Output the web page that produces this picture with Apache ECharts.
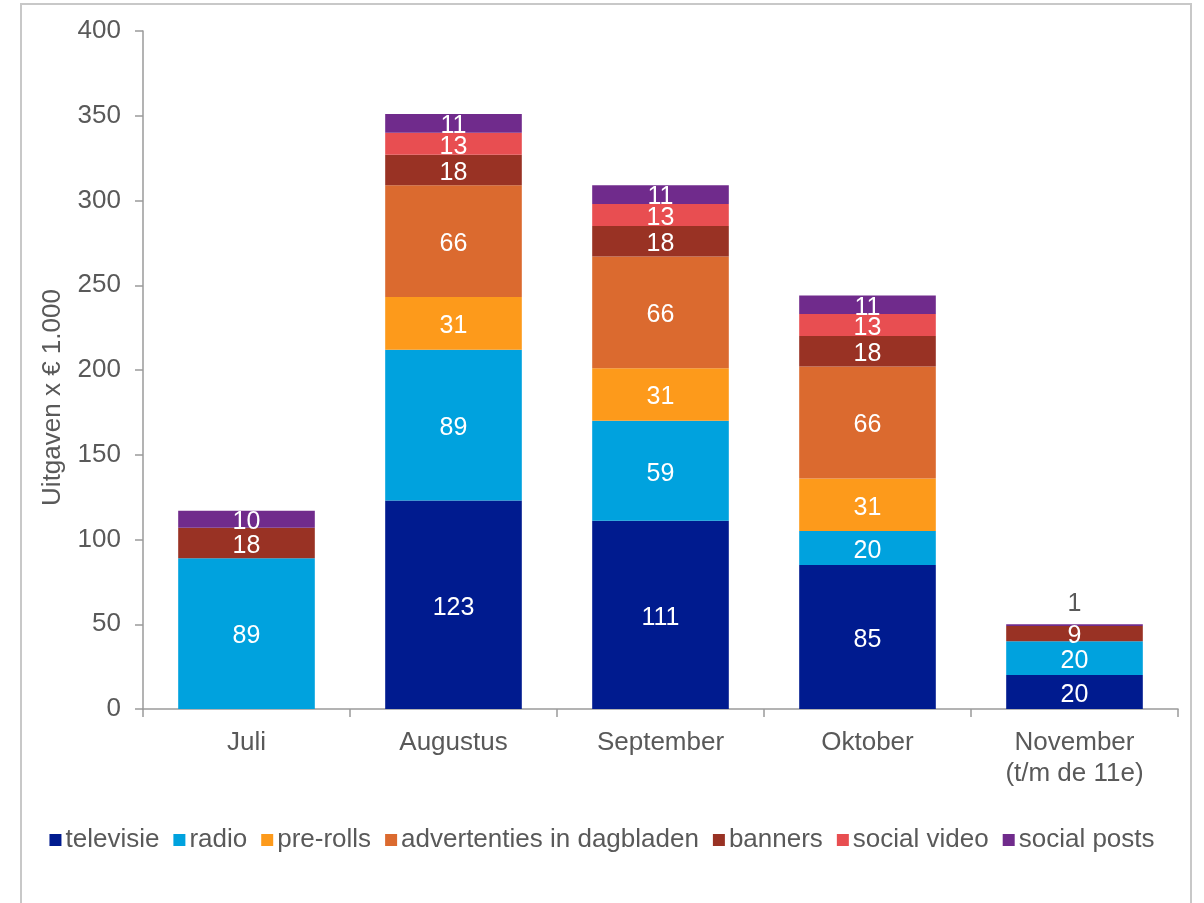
<!DOCTYPE html>
<html>
<head>
<meta charset="utf-8">
<script src="https://cdn.jsdelivr.net/npm/echarts@6/dist/echarts.min.js"></script>
<style>
  html, body { margin: 0; padding: 0; background: #fff; }
  #frame { position: absolute; left: 20px; top: 3px; width: 1172px; height: 920px; border: 2px solid #c8c8c8; box-sizing: border-box; }
  #chart { position: absolute; left: 0; top: 0; width: 1204px; height: 903px; }
</style>
</head>
<body>
<div id="frame"></div>
<div id="chart"></div>
<script>
// Monthly spending per channel (x € 1.000)
const months = ['Juli', 'Augustus', 'September', 'Oktober', 'November\n(t/m de 11e)'];
const televisie    = [null, 123, 111, 85, 20];
const radio        = [89, 89, 59, 20, 20];
const preRolls     = [null, 31, 31, 31, null];
const advertenties = [null, 66, 66, 66, null];
const banners      = [18, 18, 18, 18, 9];
const socialVideo  = [null, 13, 13, 13, null];
const socialPosts  = [10, 11, 11, 11, 1];

const seriesDefs = [
  { name: 'televisie', data: televisie, color: '#001b8f' },
  { name: 'radio', data: radio, color: '#00a2de' },
  { name: 'pre-rolls', data: preRolls, color: '#fd9a1b' },
  { name: 'advertenties in dagbladen', data: advertenties, color: '#db6a2f' },
  { name: 'banners', data: banners, color: '#993224' },
  { name: 'social video', data: socialVideo, color: '#e84e51' },
  { name: 'social posts', data: socialPosts, color: '#702b8c' }
];

const font = 'Liberation Sans, Arial, sans-serif';
const textGrey = '#595959';
const axisGrey = '#9a9a9a';

const series = seriesDefs.map(s => ({
  name: s.name,
  type: 'bar',
  stack: 'total',
  barWidth: '66%',
  itemStyle: { color: s.color },
  data: s.data.map(v => {
    // a 1-high slice is too thin for an inside label, so it sits above the bar
    if (v !== null && v < 5) {
      return { value: v, label: { position: 'top', color: textGrey, distance: 8, offset: [0, 0] } };
    }
    return v;
  }),
  label: {
    show: true,
    position: 'inside',
    offset: [0, 3],
    color: '#ffffff',
    fontFamily: font,
    fontSize: 25,
    formatter: p => (p.value === null || p.value === undefined ? '' : p.value)
  }
}));

const chart = echarts.init(document.getElementById('chart'), null, { renderer: 'canvas' });
chart.setOption({
  animation: false,
  color: seriesDefs.map(s => s.color),
  grid: { left: 143, right: 26, top: 31, bottom: 194, containLabel: false },
  legend: {
    top: 827,
    left: 'center',
    padding: 0,
    itemWidth: 12,
    itemHeight: 12,
    itemGap: 14,
    icon: 'rect',
    textStyle: { color: textGrey, fontSize: 26, fontFamily: font, padding: [0, 0, 0, -1] },
    data: seriesDefs.map(s => s.name)
  },
  xAxis: {
    type: 'category',
    data: months,
    axisLine: { lineStyle: { color: axisGrey, width: 1.5 } },
    axisTick: { show: true, length: 8, alignWithLabel: false, lineStyle: { color: axisGrey, width: 1.5 } },
    axisLabel: { color: textGrey, fontSize: 26, fontFamily: font, margin: 18, lineHeight: 31 }
  },
  yAxis: {
    type: 'value',
    min: 0,
    max: 400,
    interval: 50,
    name: 'Uitgaven x € 1.000',
    nameLocation: 'middle',
    nameGap: 77,
    nameTextStyle: { color: textGrey, fontSize: 26, fontFamily: font, padding: [0, 0, 0, -55] },
    axisLine: { show: true, lineStyle: { color: axisGrey, width: 1.5 } },
    axisTick: { show: true, length: 8, lineStyle: { color: axisGrey, width: 1.5 } },
    axisLabel: { color: textGrey, fontSize: 26, fontFamily: font, margin: 22 },
    splitLine: { show: false }
  },
  series: series
});
</script>
</body>
</html>
